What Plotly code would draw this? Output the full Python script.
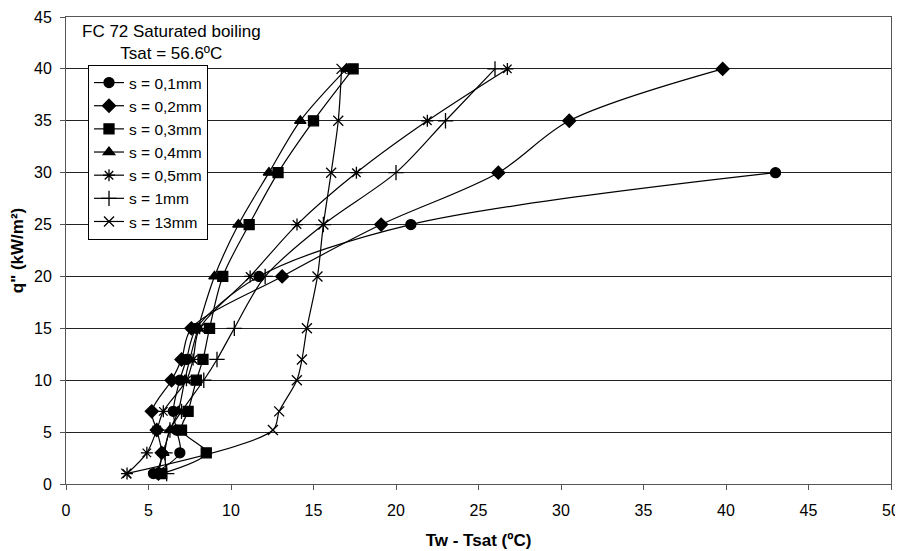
import plotly.graph_objects as go

# heat flux levels (kW/m2)
q_levels = [1, 3, 5.2, 7, 10, 12, 15, 20, 25, 30, 35, 40]

# wall superheat Tw - Tsat (C) per gap size
s_01 = [5.3, 6.9, 6.7, 6.5, 6.9, 7.3, 7.9, 11.7, 20.9, 43.0, None, None]
s_02 = [5.6, 5.8, 5.5, 5.2, 6.4, 7.0, 7.6, 13.1, 19.1, 26.2, 30.5, 39.8]
s_03 = [5.8, 8.5, 7.0, 7.4, 7.9, 8.3, 8.7, 9.5, 11.1, 12.85, 15.0, 17.4]
s_04 = [5.5, 5.9, 6.3, 6.8, 7.2, 7.5, 8.0, 9.0, 10.45, 12.3, 14.2, 17.0]
s_05 = [3.7, 4.9, 5.5, 5.9, 7.3, 7.7, 8.1, 11.16, 14.0, 17.6, 21.9, 26.75]
s_1 = [6.1, 6.0, 6.3, 7.0, 8.35, 9.15, 10.2, 12.07, 15.6, 20.0, 23.0, 26.0]
s_13 = [3.65, None, 12.54, 12.92, 13.99, 14.3, 14.6, 15.24, 15.6, 16.07, 16.5, 16.7]

series_names = ["s = 0,1mm", "s = 0,2mm", "s = 0,3mm", "s = 0,4mm",
                "s = 0,5mm", "s = 1mm", "s = 13mm"]
series_x = [s_01, s_02, s_03, s_04, s_05, s_1, s_13]
symbols = ["circle", "diamond", "square", "triangle-up",
           "asterisk-open", "cross-thin-open", "x-thin-open"]
sizes = [10, 10, 10, 10, 10, 11, 10]

x_ticks = list(range(0, 55, 5))
y_ticks = list(range(0, 50, 5))

FONT = "Liberation Sans, Arial"

# page body has an 8px margin, so the figure is sized to fit the window
W, H = 895, 543
ML, MR, MT, MB = 58, 12, 9, 67
PW, PH = W - ML - MR, H - MT - MB
TOP = 8 + MT          # page y of plot top
BOT = 8 + H - MB      # page y of plot bottom

fig = go.Figure()
for name, xs, sym, sz in zip(series_names, series_x, symbols, sizes):
    fig.add_trace(go.Scatter(
        x=xs, y=q_levels, name=name, mode="lines+markers",
        connectgaps=True,
        line=dict(color="black", width=1.2, shape="spline", smoothing=0.9),
        marker=dict(symbol=sym, size=sz, color="black",
                    line=dict(color="black", width=1.3)),
    ))

fig.add_annotation(
    xref="paper", yref="paper",
    x=(171 - 66) / PW, y=(BOT - 43) / PH,
    showarrow=False,
    text="FC 72 Saturated boiling<br>Tsat = 56.6ºC",
    font=dict(family=FONT, size=17, color="black"),
    align="center", xanchor="center", yanchor="middle",
)

fig.update_layout(
    width=W, height=H,
    margin=dict(l=ML, r=MR, t=MT, b=MB),
    paper_bgcolor="white", plot_bgcolor="white",
    font=dict(family=FONT, size=16, color="black"),
    showlegend=True,
    legend=dict(
        x=(88 - 66) / PW, y=(BOT - 65) / PH, xanchor="left", yanchor="top",
        bgcolor="white", bordercolor="black", borderwidth=1,
        font=dict(size=15.5), itemwidth=30,
        tracegroupgap=0,
    ),
    xaxis=dict(
        range=[0, 50], tickvals=x_ticks, ticks="outside", ticklen=5,
        tickcolor="#555", showgrid=False, zeroline=False, automargin=False,
        tickfont=dict(size=16), ticklabelstandoff=7, ticklabeloverflow="allow",
        showline=True, linecolor="#555", linewidth=1, mirror=True,
        title=dict(text="<b>Tw - Tsat (ºC)</b>", font=dict(size=17), standoff=15),
    ),
    yaxis=dict(
        range=[0, 45], tickvals=y_ticks, ticks="outside", ticklen=5,
        tickcolor="#555", showgrid=True, gridcolor="#222", gridwidth=1,
        zeroline=False, automargin=False, tickfont=dict(size=16),
        ticklabelstandoff=5, ticklabeloverflow="allow",
        showline=True, linecolor="#555", linewidth=1, mirror=True,
        title=dict(text="<b>q\" (kW/m²)</b>", font=dict(size=17), standoff=16),
    ),
)

fig.write_html("out.html")
